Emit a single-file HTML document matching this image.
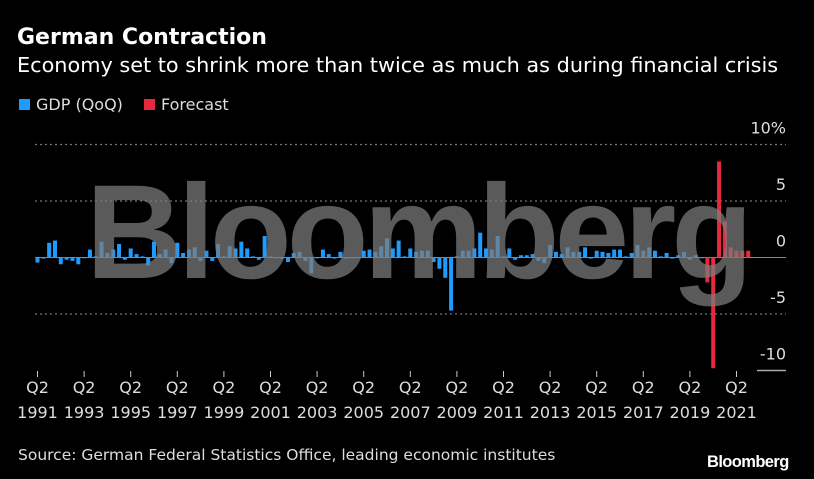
<!DOCTYPE html>
<html><head><meta charset="utf-8"><style>
html,body{margin:0;padding:0;background:#000;}
#wrap{position:relative;width:814px;height:479px;background:#000;overflow:hidden;font-family:"DejaVu Sans","Liberation Sans",sans-serif;color:#fff;}
.t{position:absolute;white-space:nowrap;}
</style></head><body>
<div id="wrap">
<div class="t" style="left:17px;top:25px;font-size:22px;font-weight:bold;">German Contraction</div>
<div class="t" style="left:17px;top:53px;font-size:20.8px;">Economy set to shrink more than twice as much as during financial crisis</div>
<div class="t" style="left:19px;top:95px;font-size:16px;color:#ddd;"><span style="display:inline-block;width:11px;height:11px;background:#1e9bff;margin-right:6px;"></span>GDP (QoQ)</div>
<div class="t" style="left:144px;top:95px;font-size:16px;color:#ddd;"><span style="display:inline-block;width:11px;height:11px;background:#e8283c;margin-right:6px;"></span>Forecast</div>
<svg id="plot" width="814" height="479" style="position:absolute;left:0;top:0"></svg>
<div class="t" style="left:18px;top:446px;font-size:15.5px;color:#ddd;">Source: German Federal Statistics Office, leading economic institutes</div>
<div class="t" style="left:707px;top:453px;font-size:16.5px;font-weight:bold;font-family:'Liberation Sans',sans-serif;letter-spacing:-0.6px;">Bloomberg</div>
</div>
<script>
const gdp=[-0.45,-0.1,1.3,1.5,-0.6,-0.2,-0.3,-0.6,0,0.7,0.1,1.4,0.4,0.7,1.2,-0.2,0.8,0.3,0.1,-0.7,1.4,0.3,0.7,-0.5,1.3,0.4,0.7,0.9,-0.3,0.6,-0.3,1.2,0.1,1.0,0.8,1.4,0.8,0.1,-0.2,1.9,0.1,0,-0.1,-0.4,0.4,0.5,-0.3,
-1.4,0,0.7,0.3,-0.1,0.5,-0.1,0,0,0.6,0.7,0.5,1.0,1.7,0.8,1.5,0.1,0.8,0.5,0.6,0.6,-0.4,-1.0,-1.8,-4.7,0.1,0.6,0.6,0.8,2.2,0.8,0.7,1.9,0.1,0.8,-0.2,0.2,0.2,0.3,-0.3,-0.5,1.1,0.5,0.3,0.9,0.5,
0.5,0.9,-0.1,0.6,0.5,0.4,0.7,0.7,0.1,0.4,1.1,0.6,0.9,0.6,0.1,0.4,-0.1,0.2,0.5,-0.2,0.2,0];
const forecast=[-2.2,-9.8,8.5,3.2,0.9,0.6,0.6,0.6];
const yTicks=[10,5,0,-5,-10];
const yTickLabels=["10%","5","0","-5","-10"];
const xTickYears=[1991,1993,1995,1997,1999,2001,2003,2005,2007,2009,2011,2013,2015,2017,2019,2021];
const startYear=1991, startQuarter=2;

const svg=document.getElementById('plot');
const NS='http://www.w3.org/2000/svg';
const y=v=>257.5-v*11.3;
const xq=(yr,q)=>37.5+((yr-1991)*4+(q-2))*5.825;
function mk(tag,attrs){const e=document.createElementNS(NS,tag);for(const k in attrs)e.setAttribute(k,attrs[k]);svg.appendChild(e);return e;}

yTicks.forEach((t,i)=>{
  if(t===-10){
    const l=mk('line',{x1:757,x2:786,y1:y(t),y2:y(t),stroke:'#aaa','stroke-width':1.5});
    
    
  } else if(t!==0){
    const g=mk('line',{x1:35,x2:786,y1:y(t),y2:y(t),stroke:'#777','stroke-width':1.2,'stroke-dasharray':'2,3'});
    
    
  }
  const tx=mk('text',{x:786,y:y(t)-11,'text-anchor':'end',fill:'#ddd','font-size':'16','font-family':'DejaVu Sans, sans-serif'});
  tx.textContent=yTickLabels[i];
  
  
});
const zl=mk('line',{x1:35,x2:786,y1:y(0),y2:y(0),stroke:'#888','stroke-width':1});



function bar(v,i,color,name){
  const yr=startYear+Math.floor((startQuarter-1+i)/4), q=(startQuarter-1+i)%4+1;
  const cx=xq(yr,q);
  const r=mk('rect',{x:cx-2,width:4,y:Math.min(y(v),y(0)),height:Math.max(Math.abs(y(v)-y(0)),0.8),fill:color});
  
  
}
gdp.forEach((v,i)=>bar(v,i,'#1e9bff','gdp-bar'));
forecast.forEach((v,i)=>bar(v,i+gdp.length,'#e8283c','forecast-bar'));

const wm=mk('text',{x:417,y:278,'text-anchor':'middle',fill:'rgba(125,125,125,0.72)','font-size':'134','font-weight':'bold','font-family':'Liberation Sans, sans-serif','letter-spacing':'-5'});
wm.textContent='Bloomberg';



xTickYears.forEach(yr=>{
  const cx=xq(yr,2);
  const tk=mk('line',{x1:cx,x2:cx,y1:371,y2:377,stroke:'#ccc','stroke-width':1});
  
  
  const a=mk('text',{x:cx,y:393,'text-anchor':'middle',fill:'#ddd','font-size':'16','font-family':'DejaVu Sans, sans-serif'});
  a.textContent='Q2';
  
  
  const b=mk('text',{x:cx,y:418,'text-anchor':'middle',fill:'#ddd','font-size':'16','font-family':'DejaVu Sans, sans-serif'});
  b.textContent=String(yr);
  
  
});
</script>
</body></html>
